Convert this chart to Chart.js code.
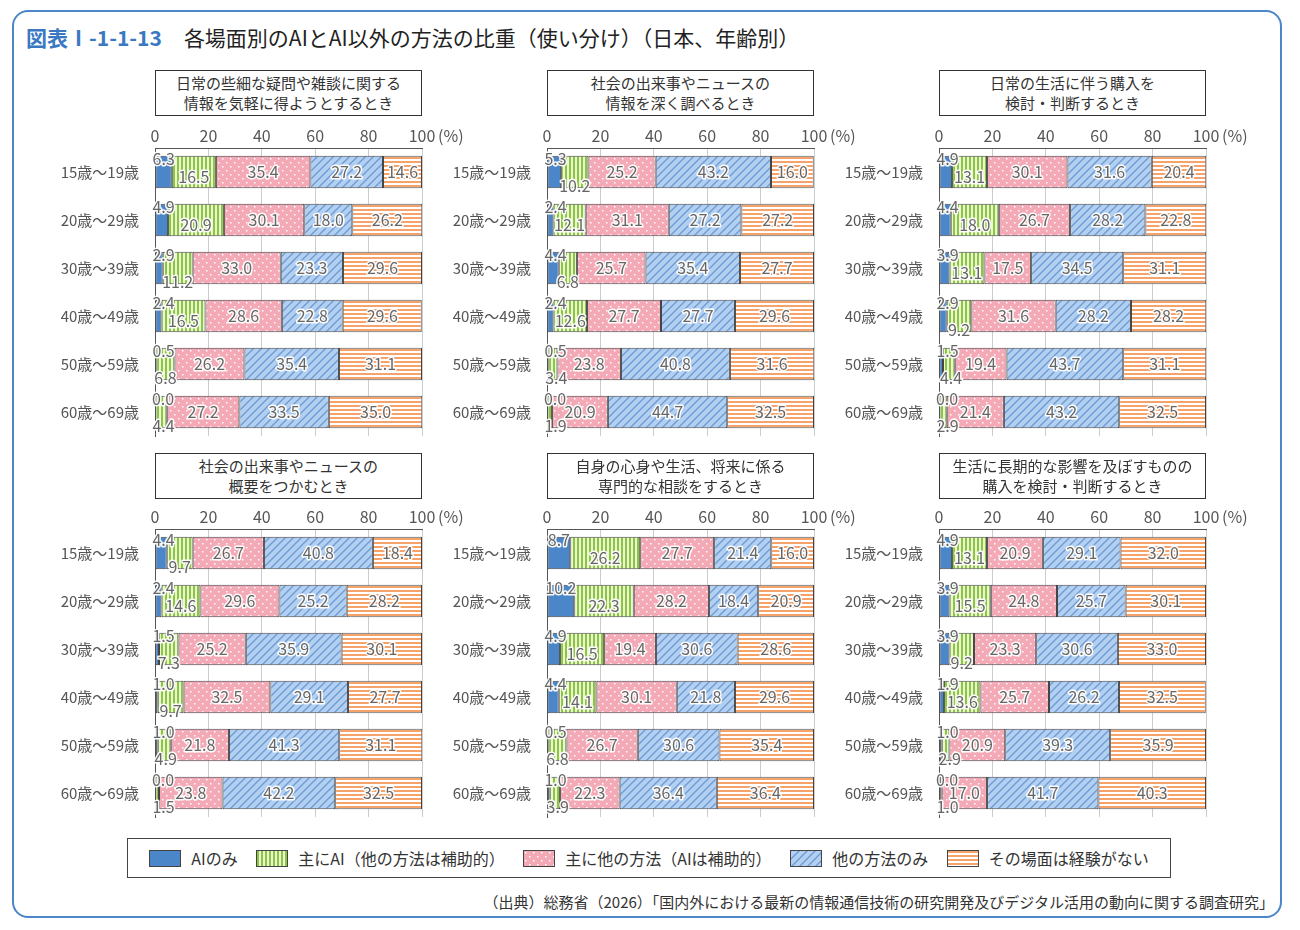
<!DOCTYPE html>
<html><head><meta charset="utf-8">
<script src="https://cdn.jsdelivr.net/npm/chart.js@4.4.0/dist/chart.umd.min.js"></script>
<style>
body{margin:0;width:1300px;height:930px;background:#fff;font-family:"Noto Sans CJK JP","Noto Sans",sans-serif;position:relative;overflow:hidden}
.frame{position:absolute;left:12px;top:10px;width:1270px;height:908px;border:2px solid #4a86c8;border-radius:16px;box-sizing:border-box}
.title{position:absolute;left:26px;top:22px;font-size:21px;color:#222;white-space:nowrap}
.title b{color:#3a78c2;font-weight:bold;margin-right:22px}
.ptitle{position:absolute;width:267px;height:46px;border:1px solid #333;box-sizing:border-box;font-size:15px;color:#333;text-align:center;line-height:20px;padding-top:2px}
canvas.c{position:absolute}
.legend{position:absolute;left:127px;top:838px;width:1044px;height:40px;border:1px solid #444;box-sizing:border-box;font-size:16px;color:#333;display:flex;align-items:center;justify-content:space-around;padding:0 12px}
.legend span{display:flex;align-items:center}
.legend canvas{width:30px;height:15px;border:1px solid #444;margin-right:10px}
.source{position:absolute;right:26px;top:891px;font-size:15px;color:#333}
</style></head><body>
<div class="frame"></div>
<div class="title"><b>図表Ⅰ-1-1-13</b>各場面別のAIとAI以外の方法の比重（使い分け）（日本、年齢別）</div>
<div class="legend" id="legend"></div>
<div class="source">（出典）総務省（2026）「国内外における最新の情報通信技術の研究開発及びデジタル活用の動向に関する調査研究」</div>
<script>
const ages = ['15歳～19歳','20歳～29歳','30歳～39歳','40歳～49歳','50歳～59歳','60歳～69歳'];
const seriesNames = ['AIのみ','主にAI（他の方法は補助的）','主に他の方法（AIは補助的）','他の方法のみ','その場面は経験がない'];
const xTicks = [0,20,40,60,80,100];
const panelTitles = [
  ['日常の些細な疑問や雑談に関する','情報を気軽に得ようとするとき'],
  ['社会の出来事やニュースの','情報を深く調べるとき'],
  ['日常の生活に伴う購入を','検討・判断するとき'],
  ['社会の出来事やニュースの','概要をつかむとき'],
  ['自身の心身や生活、将来に係る','専門的な相談をするとき'],
  ['生活に長期的な影響を及ぼすものの','購入を検討・判断するとき']
];
// each panel: rows = age groups, columns = series
const panel1 = [[6.3,16.5,35.4,27.2,14.6],[4.9,20.9,30.1,18.0,26.2],[2.9,11.2,33.0,23.3,29.6],[2.4,16.5,28.6,22.8,29.6],[0.5,6.8,26.2,35.4,31.1],[0.0,4.4,27.2,33.5,35.0]];
const panel2 = [[5.3,10.2,25.2,43.2,16.0],[2.4,12.1,31.1,27.2,27.2],[4.4,6.8,25.7,35.4,27.7],[2.4,12.6,27.7,27.7,29.6],[0.5,3.4,23.8,40.8,31.6],[0.0,1.9,20.9,44.7,32.5]];
const panel3 = [[4.9,13.1,30.1,31.6,20.4],[4.4,18.0,26.7,28.2,22.8],[3.9,13.1,17.5,34.5,31.1],[2.9,9.2,31.6,28.2,28.2],[1.5,4.4,19.4,43.7,31.1],[0.0,2.9,21.4,43.2,32.5]];
const panel4 = [[4.4,9.7,26.7,40.8,18.4],[2.4,14.6,29.6,25.2,28.2],[1.5,7.3,25.2,35.9,30.1],[1.0,9.7,32.5,29.1,27.7],[1.0,4.9,21.8,41.3,31.1],[0.0,1.5,23.8,42.2,32.5]];
const panel5 = [[8.7,26.2,27.7,21.4,16.0],[10.2,22.3,28.2,18.4,20.9],[4.9,16.5,19.4,30.6,28.6],[4.4,14.1,30.1,21.8,29.6],[0.5,6.8,26.7,30.6,35.4],[1.0,3.9,22.3,36.4,36.4]];
const panel6 = [[4.9,13.1,20.9,29.1,32.0],[3.9,15.5,24.8,25.7,30.1],[3.9,9.2,23.3,30.6,33.0],[1.9,13.6,25.7,26.2,32.5],[1.0,2.9,20.9,39.3,35.9],[0.0,1.0,17.0,41.7,40.3]];
const panels = [panel1,panel2,panel3,panel4,panel5,panel6];

// fill patterns
function makePattern(kind){
  const c = document.createElement('canvas'); c.width = 8; c.height = 8;
  const g = c.getContext('2d');
  if(kind===0){ g.fillStyle='#4a86c8'; g.fillRect(0,0,8,8); }
  if(kind===1){ g.fillStyle='#eaf6d6'; g.fillRect(0,0,8,8); g.fillStyle='#8cc63f'; g.fillRect(0,0,2,8); g.fillRect(4,0,2,8); }
  if(kind===2){ g.fillStyle='#f4a9b6'; g.fillRect(0,0,8,8); g.fillStyle='#fff'; g.fillRect(1,1,1.5,1.5); g.fillRect(5,5,1.5,1.5); }
  if(kind===3){ g.fillStyle='#b4d0f0'; g.fillRect(0,0,8,8); g.strokeStyle='#6a9ad6'; g.lineWidth=1.3;
    g.beginPath(); g.moveTo(0,8); g.lineTo(8,0); g.moveTo(-4,4); g.lineTo(4,-4); g.moveTo(4,12); g.lineTo(12,4); g.stroke(); }
  if(kind===4){ g.fillStyle='#fff'; g.fillRect(0,0,8,8); g.fillStyle='#f5a26b'; g.fillRect(0,0,8,2); g.fillRect(0,4,8,2); }
  return {canvas:c, pat:g.createPattern(c,'repeat')};
}
const fills = [0,1,2,3,4].map(makePattern);

// legend
const legend = document.getElementById('legend');
seriesNames.forEach((n,i)=>{
  const s = document.createElement('span');
  const lc = document.createElement('canvas'); lc.width=30; lc.height=15;
  const g = lc.getContext('2d'); g.fillStyle = g.createPattern(fills[i].canvas,'repeat'); g.fillRect(0,0,30,15);
  s.appendChild(lc); s.appendChild(document.createTextNode(n)); legend.appendChild(s);
});

const labelPlugin = {
  id:'segLabels',
  afterDatasetsDraw(chart){
    const ctx = chart.ctx;
    ctx.save();
    ctx.font = '16px "Noto Sans CJK JP", "Noto Sans", sans-serif';
    ctx.textAlign='center'; ctx.textBaseline='middle';
    ctx.lineJoin='round';
    chart.data.datasets.forEach((ds,di)=>{
      chart.getDatasetMeta(di).data.forEach((bar,i)=>{
        const v = ds.data[i];
        const x0 = bar.base, x1 = bar.x;
        let x = (x0+x1)/2, y = bar.y;
        const h = bar.height;
        if(di===0){ y = bar.y - h/2 + 3; x = Math.max(x, x0+8); }
        else if(di===1 && (x1-x0) < 30){ y = bar.y + h/2 - 2; x = Math.max(x, x0+8); }
        else if(di===1){ y = bar.y + 5; }
        const t = v.toFixed(1);
        ctx.strokeStyle='rgba(255,255,255,0.95)'; ctx.lineWidth=3;
        ctx.strokeText(t,x,y);
        ctx.fillStyle='#666'; ctx.fillText(t,x,y);
      });
    });
    // (%) label
    const xs = chart.scales.x;
    ctx.font = '16px "Noto Sans CJK JP", "Noto Sans", sans-serif';
    ctx.fillStyle='#555'; ctx.textAlign='left';
    ctx.fillText('(%)', xs.right+16, xs.top + 11);
    ctx.restore();
  }
};

const colLeft = [155,547,939];
const rowTop = [125,506];
const titleTop = [70,453];

panels.forEach((data,p)=>{
  const col = p%3, row = Math.floor(p/3);
  const t = document.createElement('div');
  t.className='ptitle'; t.style.left=colLeft[col]+'px'; t.style.top=titleTop[row]+'px';
  t.innerHTML = panelTitles[p].join('<br>');
  document.body.appendChild(t);

  const cv = document.createElement('canvas');
  cv.className='c';
  cv.style.left=(colLeft[col]-110)+'px'; cv.style.top=rowTop[row]+'px';
  cv.style.width='420px'; cv.style.height='328px';
  cv.width=420; cv.height=328;
  document.body.appendChild(cv);

  new Chart(cv.getContext('2d'),{
    type:'bar',
    data:{
      labels: ages,
      datasets: seriesNames.map((n,si)=>({
        label:n,
        data: data.map(r=>r[si]),
        backgroundColor: fills[si].pat,
        borderColor:'#444',
        borderWidth:1,
        borderSkipped:false,
        barPercentage:0.68,
        categoryPercentage:1
      }))
    },
    options:{
      indexAxis:'y',
      responsive:false,
      animation:false,
      devicePixelRatio:1,
      layout:{padding:{left:0,right:43,top:0,bottom:6}},
      plugins:{legend:{display:false},tooltip:{enabled:false}},
      scales:{
        x:{
          position:'top', stacked:true, min:0, max:100,
          afterBuildTicks: s=>{ s.ticks = xTicks.map(v=>({value:v})); },
          afterFit: s=>{ s.height = 23; },
          ticks:{color:'#555',font:{size:16,family:'"Noto Sans CJK JP", "Noto Sans", sans-serif'},padding:2,maxRotation:0},
          grid:{color:'#ccc',drawTicks:false},
          border:{color:'#555'}
        },
        y:{
          stacked:true,
          afterFit: s=>{ s.width = 110; },
          ticks:{color:'#555',font:{size:15,family:'"Noto Sans CJK JP", "Noto Sans", sans-serif'},padding:8},
          grid:{display:false},
          border:{color:'#555'}
        }
      }
    },
    plugins:[labelPlugin]
  });
});
</script>
</body></html>
